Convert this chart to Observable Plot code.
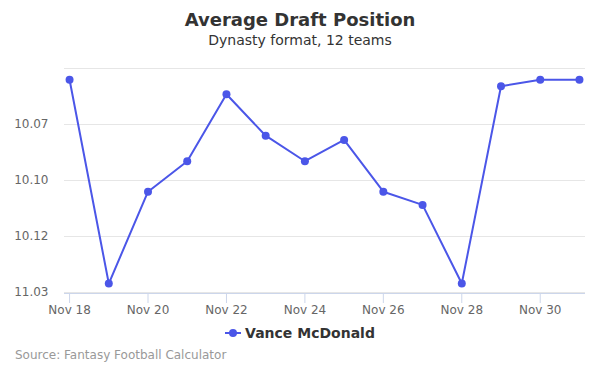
<!DOCTYPE html>
<html><head><meta charset="utf-8">
<script src="https://cdn.jsdelivr.net/npm/d3@7"></script>
<script src="https://cdn.jsdelivr.net/npm/@observablehq/plot@0.6"></script>
<style>
body{margin:0;width:600px;height:375px;position:relative;font-family:"DejaVu Sans",sans-serif;background:#fff;overflow:hidden}
#title{position:absolute;top:9px;left:0;width:600px;text-align:center;font-size:18px;font-weight:bold;color:#333}
#subtitle{position:absolute;top:32px;left:0;width:600px;text-align:center;font-size:14px;color:#333}
#chart{position:absolute;top:55px;left:0}
#legend{position:absolute;top:325px;left:0;width:600px;text-align:center;font-size:14px;font-weight:bold;color:#333}
#legend svg{vertical-align:-1px;margin-right:4px}
#source{position:absolute;top:348px;left:15px;font-size:12px;color:#999}
</style></head>
<body>
<div id="title">Average Draft Position</div>
<div id="subtitle">Dynasty format, 12 teams</div>
<div id="chart"></div>
<div id="legend"></div>
<div id="source">Source: Fantasy Football Calculator</div>
<script>
const seriesName = "Vance McDonald";
const dates = ["2018-11-18","2018-11-19","2018-11-20","2018-11-21","2018-11-22","2018-11-23","2018-11-24","2018-11-25","2018-11-26","2018-11-27","2018-11-28","2018-11-29","2018-11-30","2018-12-01"];
const adp = [113.0,122.1,118.0,116.64,113.65,115.5,116.64,115.69,118.0,118.59,122.1,113.29,113.0,113.0];
const yTickValues = [115,117.5,120,122.5];
const yTickLabels = ["10.07","10.10","10.12","11.03"];
const yGrid = [112.5,115,117.5,120];
const xTickDates = ["2018-11-18","2018-11-20","2018-11-22","2018-11-24","2018-11-26","2018-11-28","2018-11-30"];
const xTickLabels = ["Nov 18","Nov 20","Nov 22","Nov 24","Nov 26","Nov 28","Nov 30"];
const color = "#4b56e8";

const data = dates.map((d,i)=>({date:new Date(d), adp:adp[i]}));
const xTicks = xTickDates.map(d=>new Date(d));
const H = 3600e3;
const x0 = new Date(new Date(dates[0]).getTime() - 3.1*H);
const x1 = new Date(new Date(dates[dates.length-1]).getTime() + 3.7*H);

const chart = Plot.plot({
  width: 600, height: 265,
  marginTop: 13, marginBottom: 28, marginLeft: 64, marginRight: 15,
  style: {fontFamily: '"DejaVu Sans", sans-serif', fontSize: "12px", background: "#fff"},
  x: {type: "utc", domain: [x0, x1]},
  y: {domain: [112.5, 122.5], reverse: true},
  marks: [
    Plot.ruleY(yGrid, {stroke: "#e6e6e6", strokeOpacity: 1}),
    Plot.ruleY([122.5], {stroke: "#e6e6e6", strokeOpacity: 1}),
    Plot.ruleY([122.5], {stroke: "#ccd6eb", strokeOpacity: 1, dy: 1}),
    Plot.axisY({ticks: yTickValues, tickFormat: v => yTickLabels[yTickValues.indexOf(v)], tickSize: 0, tickPadding: 16, fill: "#666", fontSize: 12, label: null}),
    Plot.axisX({ticks: xTicks, tickFormat: d => xTickLabels[xTicks.findIndex(t=>+t===+d)], tickSize: 10, tickPadding: 2, stroke: "#ccd6eb", strokeOpacity: 1, fill: "#666", fontSize: 12, label: null, dy: 1}),
    Plot.line(data, {x: "date", y: "adp", stroke: color, strokeWidth: 2}),
    Plot.dot(data, {x: "date", y: "adp", r: 4, fill: color, stroke: "none"})
  ]
});
document.getElementById("chart").appendChild(chart);

document.getElementById("legend").innerHTML =
  `<svg width="16" height="12"><line x1="0" y1="6" x2="16" y2="6" stroke="${color}" stroke-width="2"/><circle cx="8" cy="6" r="4" fill="${color}"/></svg>` + seriesName;
</script>
</body></html>
